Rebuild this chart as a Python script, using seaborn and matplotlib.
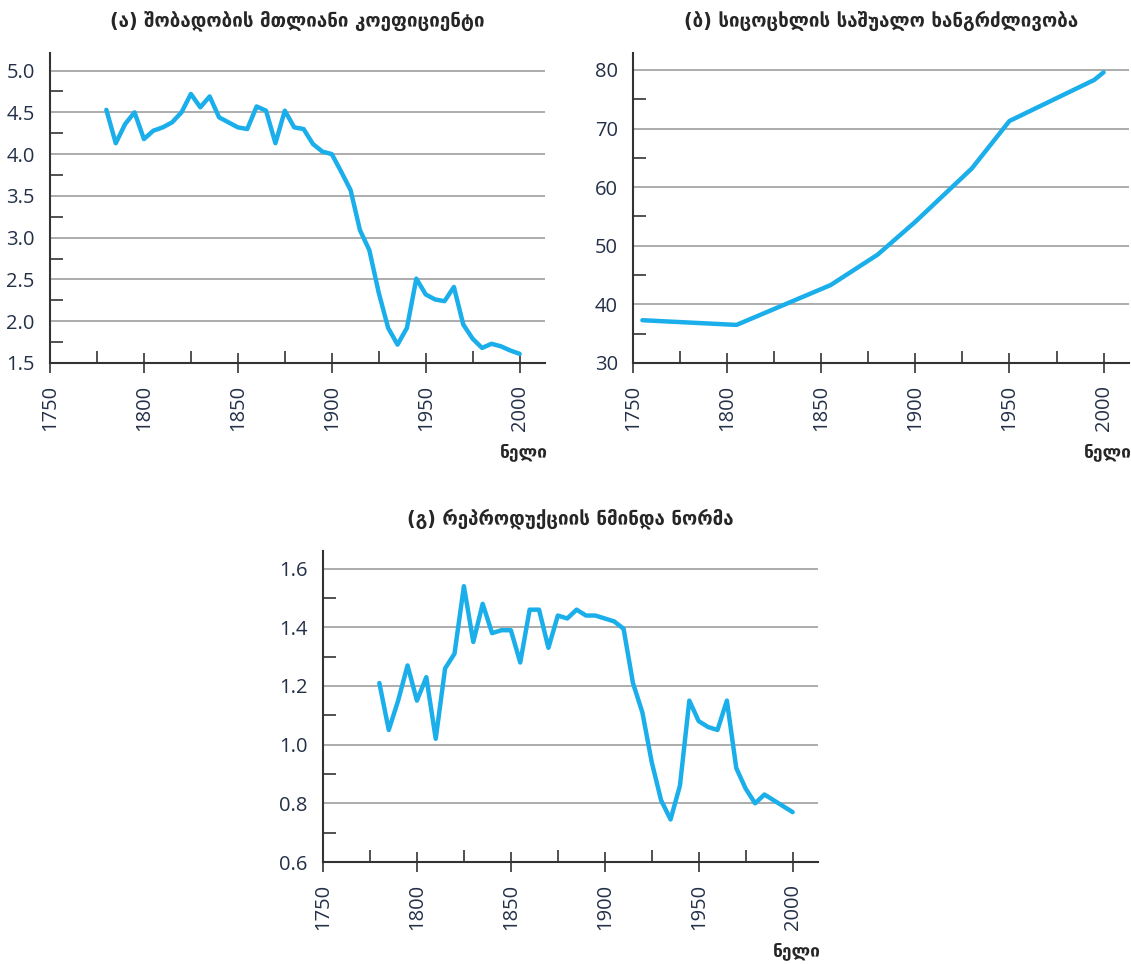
import numpy as np
import pandas as pd
import seaborn as sns
from matplotlib import pyplot as plt
from matplotlib.ticker import MultipleLocator

# (a) total fertility rate
years_a = [1780, 1785, 1790, 1795, 1800, 1805, 1810, 1815, 1820, 1825,
           1830, 1835, 1840, 1845, 1850, 1855, 1860, 1865, 1870, 1875,
           1880, 1885, 1890, 1895, 1900, 1905, 1910, 1915, 1920, 1925,
           1930, 1935, 1940, 1945, 1950, 1955, 1960, 1965, 1970, 1975,
           1980, 1985, 1990, 1995, 2000]
tfr = [4.53, 4.13, 4.36, 4.50, 4.18, 4.28, 4.32, 4.38, 4.50, 4.72,
       4.56, 4.69, 4.44, 4.38, 4.32, 4.30, 4.57, 4.52, 4.13, 4.52,
       4.32, 4.30, 4.12, 4.03, 4.00, 3.79, 3.57, 3.09, 2.85, 2.34,
       1.92, 1.72, 1.92, 2.51, 2.32, 2.26, 2.24, 2.41, 1.96, 1.79,
       1.68, 1.73, 1.70, 1.65, 1.61]

# (b) life expectancy
years_b = [1755, 1805, 1855, 1880, 1900, 1930, 1950, 1995, 2000]
life_exp = [37.3, 36.5, 43.3, 48.5, 54.1, 63.2, 71.3, 78.3, 79.6]

# (c) net reproduction rate
years_c = years_a
nrr = [1.21, 1.05, 1.15, 1.27, 1.15, 1.23, 1.02, 1.26, 1.31, 1.54,
       1.35, 1.48, 1.38, 1.39, 1.39, 1.28, 1.46, 1.46, 1.33, 1.44,
       1.43, 1.46, 1.44, 1.44, 1.43, 1.42, 1.395, 1.21, 1.11, 0.94,
       0.81, 0.745, 0.86, 1.15, 1.08, 1.06, 1.05, 1.15, 0.92, 0.85,
       0.80, 0.83, 0.81, 0.79, 0.77]

titles = ["(ა) შობადობის მთლიანი კოეფიციენტი",
          "(ბ) სიცოცხლის საშუალო ხანგრძლივობა",
          "(გ) რეპროდუქციის ნმინდა ნორმა"]
xlabel = "ნელი"
xticks = [1750, 1800, 1850, 1900, 1950, 2000]

sns.set_style("white")
plt.rcParams['font.family'] = ['Open Sans', 'DejaVu Sans']

W, H = 1131, 964
fig = plt.figure(figsize=(W / 100, H / 100), dpi=100)


def px_axes(l, t, r, b):
    return fig.add_axes([l / W, 1 - b / H, (r - l) / W, (b - t) / H])


line_col = "#1aaeea"
tick_col = "#243048"

panels = [
    (px_axes(50, 53, 545, 363), years_a, tfr, (1.5, 5.21), 0.5, 0.25, "{:.1f}"),
    (px_axes(633, 53, 1129, 363), years_b, life_exp, (30, 82.9), 10, 5, "{:.0f}"),
    (px_axes(323, 551, 818, 862), years_c, nrr, (0.6, 1.66), 0.2, 0.1, "{:.1f}"),
]

for k, (ax, yrs, vals, ylim, major, minor, fmt) in enumerate(panels):
    df = pd.DataFrame({"year": yrs, "value": vals})
    sns.lineplot(data=df, x="year", y="value", ax=ax, color=line_col,
                 linewidth=3.2, legend=False, solid_capstyle="round",
                 solid_joinstyle="round")
    ax.set_xlim(1750, 2013.5)
    ax.set_ylim(*ylim)
    ax.set_xlabel("")
    ax.set_ylabel("")

    ax.xaxis.set_minor_locator(MultipleLocator(25))
    ax.yaxis.set_minor_locator(MultipleLocator(minor))
    yt = [v for v in np.arange(ylim[0], ylim[1] + 1e-9, major)]
    ax.set_yticks(yt)
    ax.set_yticklabels([fmt.format(v) for v in yt])
    ax.set_xticks(xticks)
    ax.set_xticklabels([str(x) for x in xticks], rotation=90)

    for v in yt[1:]:
        ax.axhline(v, color="#a6a6a6", linewidth=1.3, zorder=0)

    ax.tick_params(axis="x", which="major", bottom=True, direction="inout", length=15,
                   width=1.2, color="#333333", labelsize=14.5, labelcolor=tick_col, pad=8)
    ax.tick_params(axis="x", which="minor", bottom=True, direction="in", length=9,
                   width=1.2, color="#333333")
    ax.tick_params(axis="y", which="major", left=True, length=0, labelsize=14.5,
                   labelcolor=tick_col, pad=11)
    ax.tick_params(axis="y", which="minor", left=True, direction="in", length=9,
                   width=1.2, color="#333333")
    for sp in ["top", "right"]:
        ax.spines[sp].set_visible(False)
    for sp in ["left", "bottom"]:
        ax.spines[sp].set_color("#333333")
        ax.spines[sp].set_linewidth(1.5)

    bb = ax.get_position()
    fig.text((bb.x0 + bb.x1) / 2, bb.y1 + 32 / H, titles[k], ha="center", va="center",
             fontsize=13.5, fontweight="bold", family=["DejaVu Sans"])
    fig.text(bb.x1 + 3 / W, bb.y0 - 90 / H, xlabel, ha="right", va="center",
             fontsize=12.5, fontweight="bold", family=["DejaVu Sans"])

fig.savefig("out.png", dpi=100)
